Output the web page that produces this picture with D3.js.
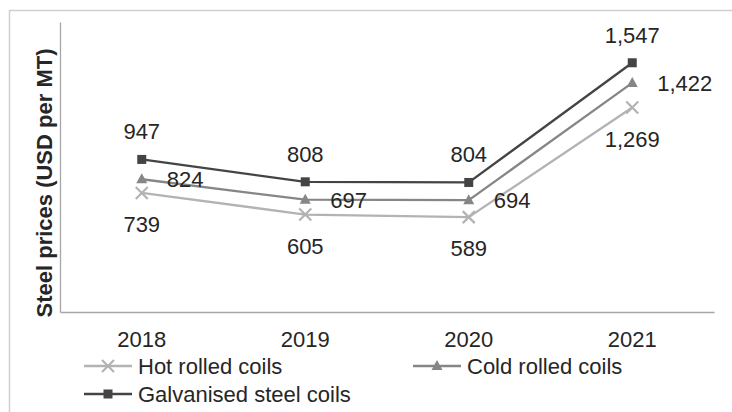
<!DOCTYPE html>
<html>
<head>
<meta charset="utf-8">
<script src="https://cdn.jsdelivr.net/npm/d3@7"></script>
<style>
  html, body { margin: 0; padding: 0; background: #fff; }
  svg { display: block; font-family: "Liberation Sans", Arial, sans-serif; }
  svg text { font-family: "Liberation Sans", Arial, sans-serif; }
</style>
</head>
<body>
<svg id="chart" width="732" height="412"></svg>
<script>
// Steel prices by product, USD per metric tonne
const years = ["2018", "2019", "2020", "2021"];
const hotRolled = [739, 605, 589, 1269];
const coldRolled = [824, 697, 694, 1422];
const galvanised = [947, 808, 804, 1547];
const seriesNames = ["Hot rolled coils", "Cold rolled coils", "Galvanised steel coils"];
const yDomain = [0, 1800];

const series = [
  { name: seriesNames[0], values: hotRolled, color: "#b3b3b3", marker: "x", label: "below" },
  { name: seriesNames[1], values: coldRolled, color: "#868686", marker: "triangle", label: "right" },
  { name: seriesNames[2], values: galvanised, color: "#444444", marker: "square", label: "above" }
];

const svg = d3.select("#chart");
const textColor = "#262626";
const fontSize = 22;

// outer frame
svg.append("rect")
  .attr("x", 9.5).attr("y", 10.5)
  .attr("width", 740).attr("height", 420)
  .attr("fill", "none").attr("stroke", "#d0d0d0").attr("stroke-width", 1.5);

const plot = { left: 60, right: 714, top: 22, bottom: 312 };

const x = d3.scaleBand().domain(years).range([plot.left, plot.right]);
const y = d3.scaleLinear().domain(yDomain).range([plot.bottom, plot.top]);
const cx = d => x(d) + x.bandwidth() / 2;

// axes: only the lines and the category labels are shown
const xAxis = svg.append("g")
  .attr("transform", `translate(0,${plot.bottom})`)
  .call(d3.axisBottom(x).tickSize(0).tickPadding(19));
xAxis.attr("font-family", null).attr("font-size", null);
xAxis.select(".domain").attr("stroke", "#a6a6a6").attr("stroke-width", 1.3);
xAxis.selectAll("text")
  .attr("font-size", fontSize).attr("fill", textColor);

const yAxis = svg.append("g")
  .attr("transform", `translate(${plot.left},0)`)
  .call(d3.axisLeft(y).tickValues([]).tickSize(0));
yAxis.select(".domain").attr("stroke", "#a6a6a6").attr("stroke-width", 1.3);

svg.append("text")
  .attr("transform", `translate(52,${(plot.top + plot.bottom) / 2 + 16}) rotate(-90)`)
  .attr("text-anchor", "middle")
  .attr("font-size", fontSize).attr("font-weight", "bold").attr("fill", textColor)
  .text("Steel prices (USD per MT)");

function drawMarker(g, type, color, px, py) {
  if (type === "square") {
    g.append("rect").attr("x", px - 4.5).attr("y", py - 4.5)
      .attr("width", 9).attr("height", 9).attr("fill", color);
  } else if (type === "triangle") {
    g.append("path")
      .attr("d", `M${px},${py - 6}L${px + 5.5},${py + 4}L${px - 5.5},${py + 4}Z`)
      .attr("fill", color);
  } else {
    g.append("path")
      .attr("d", `M${px - 6},${py - 6}L${px + 6},${py + 6}M${px + 6},${py - 6}L${px - 6},${py + 6}`)
      .attr("stroke", color).attr("stroke-width", 2.2).attr("fill", "none");
  }
}

const line = d3.line().x((d, i) => cx(years[i])).y(d => y(d));

series.forEach(s => {
  const g = svg.append("g");
  g.append("path")
    .attr("d", line(s.values))
    .attr("fill", "none").attr("stroke", s.color).attr("stroke-width", 2.3);
  s.values.forEach((v, i) => drawMarker(g, s.marker, s.color, cx(years[i]), y(v)));
  s.values.forEach((v, i) => {
    const px = cx(years[i]), py = y(v);
    const t = g.append("text")
      .attr("font-size", fontSize).attr("fill", textColor)
      .text(d3.format(",")(v));
    if (s.label === "above") {
      t.attr("x", px).attr("y", py - 20).attr("text-anchor", "middle");
    } else if (s.label === "below") {
      t.attr("x", px).attr("y", py + 39).attr("text-anchor", "middle");
    } else {
      t.attr("x", px + 25).attr("y", py + 8).attr("text-anchor", "start");
    }
  });
});

// legend
const legendItems = [
  { s: series[0], lx: 84, ly: 366 },
  { s: series[1], lx: 413, ly: 366 },
  { s: series[2], lx: 84, ly: 394 }
];
legendItems.forEach(item => {
  const g = svg.append("g");
  g.append("line")
    .attr("x1", item.lx).attr("x2", item.lx + 48)
    .attr("y1", item.ly).attr("y2", item.ly)
    .attr("stroke", item.s.color).attr("stroke-width", 2.3);
  drawMarker(g, item.s.marker, item.s.color, item.lx + 24, item.ly);
  g.append("text")
    .attr("x", item.lx + 54).attr("y", item.ly + 8)
    .attr("font-size", fontSize).attr("fill", textColor)
    .text(item.s.name);
});
</script>
</body>
</html>
